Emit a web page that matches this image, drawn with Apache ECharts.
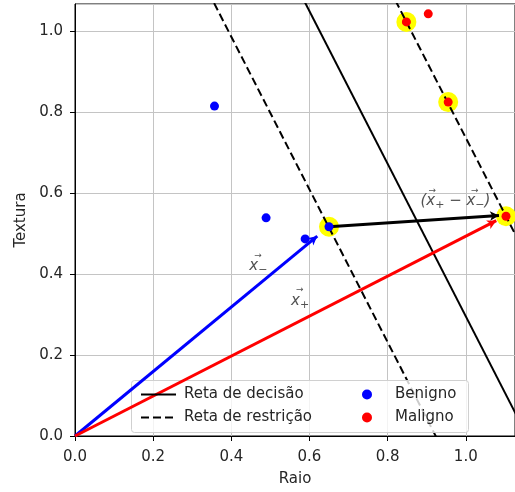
<!DOCTYPE html>
<html>
<head>
<meta charset="utf-8">
<script src="https://cdn.jsdelivr.net/npm/echarts@6/dist/echarts.min.js"></script>
<style>
  html, body { margin: 0; padding: 0; background: #fff; }
  #chart { width: 515px; height: 492px; }
</style>
</head>
<body>
<div id="chart"></div>
<script>
// Tumour samples: [raio, textura]
const benigno = [[0.357, 0.815], [0.489, 0.539], [0.589, 0.487], [0.650, 0.517]];
const maligno = [[0.848, 1.023], [0.904, 1.043], [0.955, 0.825], [1.103, 0.543]];

// Support vectors (highlighted)
const vetoresSuporte = [[0.650, 0.517], [0.848, 1.023], [0.955, 0.825], [1.103, 0.543]];

// Decision boundary and the two margin lines (end points)
const retaDecisao = [[0.50, 1.238], [1.20, -0.081]];
const retaRestricaoNeg = [[0.30, 1.175], [0.95, -0.051]];
const retaRestricaoPos = [[0.75, 1.208], [1.40, -0.017]];

// Vectors drawn as arrows: [start, tip]
const setaXMenos = [[0, 0], [0.620, 0.494]];
const setaXMais = [[0, 0], [1.078, 0.532]];
const setaDiferenca = [[0.650, 0.517], [1.085, 0.545]];

// Text annotations: [x, y, rich text] (left edge, vertical middle)
const anotacoes = [
  [0.446, 0.428, '{arr|→}\n{t|x}{s|−}'],
  [0.553, 0.343, '{arr|→}\n{t|x}{s|+}'],
  [0.884, 0.588, '{arr2|→}{arr3|→}\n{t|(x}{s|+}{t| − x}{s|−}{t|)}']
];

const xTicks = [0, 0.2, 0.4, 0.6, 0.8, 1.0];
const yTicks = [0, 0.2, 0.4, 0.6, 0.8, 1.0];

const FONT = 'DejaVu Sans';
const TXT = '#262626';

function seta(points, color) {
  return {
    type: 'line',
    data: [],
    silent: true,
    z: 4,
    markLine: {
      silent: true,
      symbol: ['none', 'arrow'],
      symbolSize: [7, 9],
      label: { show: false },
      emphasis: { disabled: true },
      animation: false,
      lineStyle: { color: color, width: 3, type: 'solid' },
      data: [[{ coord: points[0] }, { coord: points[1] }]]
    }
  };
}

const arrowStyle = { fontSize: 9, lineHeight: 7, fontStyle: 'normal', color: TXT, fontFamily: FONT };

const chart = echarts.init(document.getElementById('chart'), null, { renderer: 'canvas' });

chart.setOption({
  animation: false,
  backgroundColor: '#ffffff',
  textStyle: { fontFamily: FONT },
  grid: {
    left: 75, right: -2, top: 4, bottom: 52,
    show: true, borderColor: '#000', borderWidth: 1, backgroundColor: 'transparent'
  },
  xAxis: {
    type: 'value', min: 0, max: 1.126, interval: 0.2,
    name: 'Raio', nameLocation: 'middle', nameGap: 36,
    nameTextStyle: { fontSize: 15, color: TXT, fontFamily: FONT },
    axisLine: { show: true, onZero: false, lineStyle: { color: '#000', width: 1 } },
    axisTick: { show: true, length: 5, lineStyle: { color: '#000' } },
    axisLabel: {
      fontSize: 15, color: TXT, margin: 14, fontFamily: FONT, showMaxLabel: false,
      formatter: v => xTicks.some(t => Math.abs(t - v) < 1e-6) ? v.toFixed(1) : ''
    },
    splitLine: { show: true, lineStyle: { color: '#c4c4c4', width: 1 } }
  },
  yAxis: {
    type: 'value', min: 0, max: 1.0673, interval: 0.2,
    name: 'Textura', nameLocation: 'middle', nameGap: 46, nameRotate: 90,
    nameTextStyle: { fontSize: 15, color: TXT, fontFamily: FONT },
    axisLine: { show: true, onZero: false, lineStyle: { color: '#000', width: 1 } },
    axisTick: { show: true, length: 5, lineStyle: { color: '#000' } },
    axisLabel: {
      fontSize: 15, color: TXT, margin: 12, fontFamily: FONT, showMaxLabel: false,
      formatter: v => yTicks.some(t => Math.abs(t - v) < 1e-6) ? v.toFixed(1) : ''
    },
    splitLine: { show: true, lineStyle: { color: '#c4c4c4', width: 1 } }
  },
  legend: [
    {
      left: 135, top: 382, orient: 'vertical', itemGap: 8,
      itemWidth: 35, itemHeight: 15,
      data: ['Reta de decisão', 'Reta de restrição'],
      itemStyle: { opacity: 0 },
      textStyle: { fontSize: 15, color: TXT, fontFamily: FONT, lineHeight: 15, padding: [0, 0, 0, 3] },
      selectedMode: false, z: 6
    },
    {
      left: 357, top: 382, orient: 'vertical', itemGap: 8,
      itemWidth: 34, itemHeight: 10,
      data: [{ name: 'Benigno', icon: 'circle' }, { name: 'Maligno', icon: 'circle' }],
      textStyle: { fontSize: 15, color: TXT, fontFamily: FONT, lineHeight: 15, padding: [0, 0, 0, 6] },
      selectedMode: false, z: 6
    }
  ],
  graphic: [{
    type: 'rect', z: 5, silent: true,
    shape: { x: 131.5, y: 380.5, width: 337, height: 52, r: 3 },
    style: { fill: 'rgba(255,255,255,0.8)', stroke: '#d0d0d0', lineWidth: 1 }
  }],
  series: [
    {
      name: 'vetores de suporte', type: 'scatter', data: vetoresSuporte,
      symbol: 'circle', symbolSize: 20, itemStyle: { color: '#ffff00', opacity: 1 }, z: 2, silent: true
    },
    {
      name: 'Reta de decisão', type: 'line', data: retaDecisao, showSymbol: false, symbol: 'none',
      lineStyle: { color: '#000', width: 2, type: 'solid' }, itemStyle: { color: '#000' }, z: 3, silent: true
    },
    {
      name: 'Reta de restrição', type: 'line', data: retaRestricaoNeg, showSymbol: false, symbol: 'none',
      lineStyle: { color: '#000', width: 2, type: [8, 4] }, itemStyle: { color: '#000' }, z: 3, silent: true
    },
    {
      name: 'Reta de restrição', type: 'line', data: retaRestricaoPos, showSymbol: false, symbol: 'none',
      lineStyle: { color: '#000', width: 2, type: [8, 4] }, itemStyle: { color: '#000' }, z: 3, silent: true
    },
    seta(setaXMenos, '#0000ff'),
    seta(setaXMais, '#ff0000'),
    seta(setaDiferenca, '#000000'),
    {
      name: 'Benigno', type: 'scatter', data: benigno, symbol: 'circle', symbolSize: 9,
      itemStyle: { color: '#0000ff', opacity: 1 }, z: 5, silent: true
    },
    {
      name: 'Maligno', type: 'scatter', data: maligno, symbol: 'circle', symbolSize: 9,
      itemStyle: { color: '#ff0000', opacity: 1 }, z: 5, silent: true
    },
    {
      name: 'anotações', type: 'scatter', symbolSize: 0, silent: true, z: 5,
      data: anotacoes.map(a => ({ value: [a[0], a[1]], label: { formatter: a[2] } })),
      label: {
        show: true, position: 'inside', align: 'left', verticalAlign: 'middle',
        fontSize: 15, fontStyle: 'italic', color: TXT, fontFamily: FONT,
        rich: {
          arr: Object.assign({ padding: [0, 0, 0, 5] }, arrowStyle),
          arr2: Object.assign({ padding: [0, 0, 0, 8] }, arrowStyle),
          arr3: Object.assign({ padding: [0, 0, 0, 35] }, arrowStyle),
          t: { fontSize: 15, lineHeight: 15, fontStyle: 'italic', color: TXT, fontFamily: FONT, verticalAlign: 'top' },
          s: { fontSize: 11, lineHeight: 11, padding: [6, 0, 0, 0], fontStyle: 'normal', color: TXT, fontFamily: FONT, verticalAlign: 'top' }
        }
      }
    }
  ]
});
</script>
</body>
</html>
